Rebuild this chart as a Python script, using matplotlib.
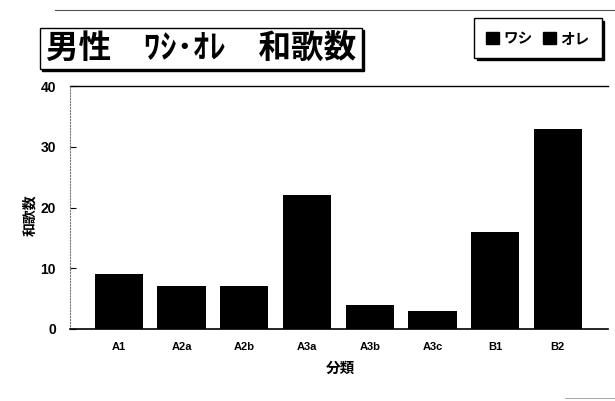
import matplotlib.pyplot as plt
from matplotlib.patches import Patch, Rectangle
from matplotlib.lines import Line2D

# data
categories = ['A1', 'A2a', 'A2b', 'A3a', 'A3b', 'A3c', 'B1', 'B2']
washi_counts = [9, 7, 7, 22, 4, 3, 16, 33]
y_ticks = [0, 10, 20, 30, 40]
series_names = ['ワシ', 'オレ']

jp = ['Noto Sans CJK JP', 'DejaVu Sans']
plt.rcParams['font.family'] = jp

W, H = 615, 401
fig = plt.figure(figsize=(W / 100, H / 100), dpi=100)


def fx(x):
    return x / W


def fy(y):
    return 1 - y / H


ax = fig.add_axes([fx(70), fy(329), (608 - 70) / W, (329 - 86) / H])
xs = list(range(len(categories)))
ax.bar(xs, washi_counts, width=0.77, color='black', label=series_names[0])
ax.set_xlim(-0.78, 7.8)
ax.set_ylim(0, 40)

# axes styling
for s in ['top', 'right']:
    ax.spines[s].set_visible(False)
ax.spines['left'].set_linestyle(':')
ax.spines['left'].set_color('#777777')
ax.spines['left'].set_linewidth(0.8)
ax.spines['bottom'].set_linewidth(1.2)
ax.axhline(40, color='black', lw=1, clip_on=False)

ax.set_yticks(y_ticks)
ax.set_yticklabels([str(t) for t in y_ticks], fontweight='bold', fontsize=10,
                   family='Liberation Sans')
ax.tick_params(axis='y', direction='in', length=4, pad=10)
ax.set_xticks(xs)
ax.set_xticklabels(categories, fontweight='bold', fontsize=8, family='Liberation Sans')
ax.tick_params(axis='x', length=0, pad=9)

ax.set_xlabel('分類', fontweight='bold', fontsize=10.5)
ax.xaxis.set_label_coords((340 - 70) / (608 - 70), -(360 - 329) / (329 - 86))
ax.set_ylabel('和歌数', fontweight='bold', fontsize=10)
ax.yaxis.set_label_coords(-(70 - 37) / (608 - 70), (329 - 215) / (329 - 86))

# title box with shadow
fig.patches.append(Rectangle((fx(42), fy(71)), (362 - 40) / W, (69 - 28) / H,
                             transform=fig.transFigure, facecolor='black',
                             edgecolor='black', zorder=1))
fig.patches.append(Rectangle((fx(40), fy(69)), (362 - 40) / W, (69 - 28) / H,
                             transform=fig.transFigure, facecolor='white',
                             edgecolor='black', lw=1, zorder=2))
fig.text(fx(201), fy(48), '男性　ﾜｼ･ｵﾚ　和歌数', fontsize=23.5, fontweight='bold',
         ha='center', va='center', zorder=3)

# legend (both series drawn black in the original)
handles = [Patch(facecolor='black', edgecolor='black', label=series_names[0]),
           Patch(facecolor='black', edgecolor='black', label=series_names[1])]
fig.legend(handles=handles, loc='center', bbox_to_anchor=(fx(538), fy(38)),
           ncol=2, frameon=True, fancybox=False,
           shadow={'color': 'black', 'alpha': 1, 'ox': 2, 'oy': -2},
           edgecolor='black', handlelength=0.9, handleheight=0.9,
           handletextpad=0.3, columnspacing=0.7, borderpad=0.8,
           prop={'weight': 'bold', 'family': jp, 'size': 10.5})

# faint scan border lines
fig.add_artist(Line2D([fx(55), fx(615)], [fy(10), fy(10)], color='#555555',
                      lw=0.8, transform=fig.transFigure))
fig.add_artist(Line2D([fx(565), fx(615)], [fy(398), fy(398)], color='#999999',
                      lw=0.6, transform=fig.transFigure))

plt.savefig('out.png', dpi=100)
